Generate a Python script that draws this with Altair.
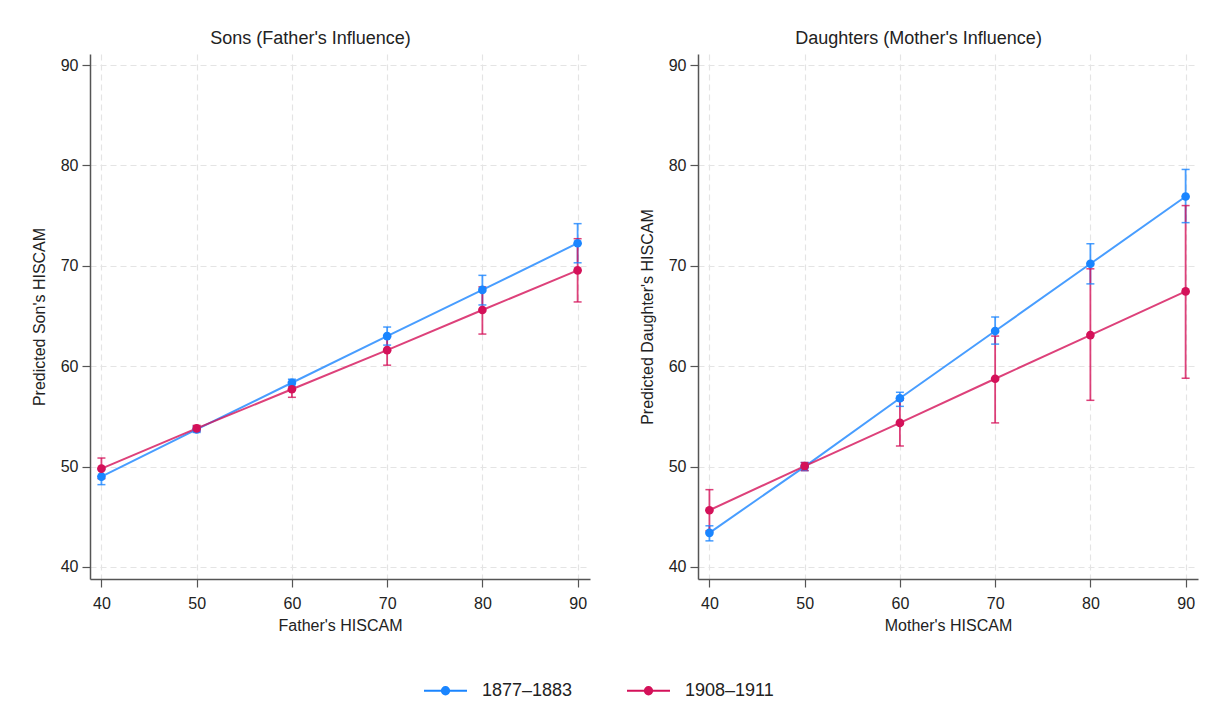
import altair as alt
import pandas as pd

# ---- data ----
x_vals = [40, 50, 60, 70, 80, 90]
cohorts = ["1877–1883", "1908–1911"]

sons_early = [49.0, 53.7, 58.35, 63.0, 67.6, 72.25]
sons_early_lo = [48.2, 53.4, 58.0, 62.1, 66.1, 70.3]
sons_early_hi = [49.7, 54.0, 58.7, 63.9, 69.05, 74.2]

sons_late = [49.8, 53.8, 57.7, 61.6, 65.6, 69.55]
sons_late_lo = [48.8, 53.5, 56.9, 60.1, 63.2, 66.4]
sons_late_hi = [50.85, 54.1, 58.4, 63.0, 67.9, 72.7]

dau_early = [43.4, 50.0, 56.8, 63.5, 70.2, 76.9]
dau_early_lo = [42.6, 49.6, 56.0, 62.2, 68.2, 74.3]
dau_early_hi = [44.1, 50.4, 57.4, 64.9, 72.2, 79.6]

dau_late = [45.65, 50.05, 54.35, 58.75, 63.1, 67.45]
dau_late_lo = [43.6, 49.6, 52.05, 54.35, 56.6, 58.8]
dau_late_hi = [47.7, 50.4, 56.6, 63.0, 69.7, 76.0]

colors = ["#1a85ff", "#d41159"]
FONT = "Liberation Sans"
TXT = "#222222"


def frame(vals, lo, hi, cohort):
    return pd.DataFrame({"x": x_vals, "y": vals, "lo": lo, "hi": hi, "cohort": cohort})


sons_df = pd.concat([frame(sons_early, sons_early_lo, sons_early_hi, cohorts[0]),
                     frame(sons_late, sons_late_lo, sons_late_hi, cohorts[1])])
dau_df = pd.concat([frame(dau_early, dau_early_lo, dau_early_hi, cohorts[0]),
                    frame(dau_late, dau_late_lo, dau_late_hi, cohorts[1])])

legend_path = ("M-1,0L1,0"
               "M-0.17,0A0.17,0.17,0,1,1,0.17,0A0.17,0.17,0,1,1,-0.17,0"
               "M-0.085,0A0.085,0.085,0,1,1,0.085,0A0.085,0.085,0,1,1,-0.085,0"
               "M-0.02,0A0.02,0.02,0,1,1,0.02,0A0.02,0.02,0,1,1,-0.02,0")

LEG = alt.Legend(title=None, orient="none", direction="horizontal",
                 legendX=333, legendY=614,
                 symbolType=legend_path, symbolSize=1849, symbolOpacity=1,
                 symbolStrokeWidth=2, labelFontSize=18,
                 labelFont=FONT, labelColor=TXT, labelOffset=14,
                 columnPadding=50)
COL = alt.Color("cohort:N", scale=alt.Scale(domain=cohorts, range=colors), legend=LEG)

YSC = alt.Scale(domain=[38.8, 91.1], nice=False, zero=False)
XSC = alt.Scale(domain=[38.8, 91.3], nice=False, zero=False)


def panel(df, title, xtitle, ytitle):
    xs = alt.X("x:Q", title=xtitle, scale=XSC, axis=alt.Axis(values=x_vals))
    ys = alt.Y("y:Q", title=ytitle, scale=YSC,
               axis=alt.Axis(values=[40, 50, 60, 70, 80, 90]))
    base = alt.Chart(df)
    rules = base.mark_rule(strokeWidth=1.8, opacity=0.8).encode(
        x=xs, y=alt.Y("lo:Q", scale=YSC), y2="hi:Q", color=COL)
    cap_lo = base.mark_tick(orient="horizontal", size=8, thickness=1.5, opacity=0.8).encode(
        x="x:Q", y="lo:Q", color=COL)
    cap_hi = base.mark_tick(orient="horizontal", size=8, thickness=1.5, opacity=0.8).encode(
        x="x:Q", y="hi:Q", color=COL)
    line = base.mark_line(strokeWidth=2, opacity=0.8).encode(x=xs, y=ys, color=COL)
    pts = base.mark_circle(size=75, opacity=1).encode(x="x:Q", y="y:Q", color=COL)
    return alt.layer(rules, cap_lo, cap_hi, line, pts).properties(
        width=500, height=525,
        title=alt.TitleParams(title, frame="bounds", anchor="middle", fontSize=18,
                              font=FONT, color=TXT, fontWeight="normal", offset=6))


left = panel(sons_df, "Sons (Father's Influence)", "Father's HISCAM", "Predicted Son's HISCAM")
right = panel(dau_df, "Daughters (Mother's Influence)", "Mother's HISCAM", "Predicted Daughter's HISCAM")

chart = alt.hconcat(left, right, spacing=49).properties(
    padding={"left": 23, "top": 22, "right": 5, "bottom": 5}
).configure_view(stroke=None).configure_axis(
    grid=True, gridColor="#e4e4e4", gridDash=[6, 4], gridWidth=1.2,
    domainColor="#555555", domainWidth=1.5,
    tickColor="#555555", tickSize=8, tickWidth=1.2,
    labelFont=FONT, labelFontSize=16, labelColor=TXT,
    titleFont=FONT, titleFontSize=16, titleColor=TXT, titleFontWeight="normal",
).configure_axisY(labelPadding=4, titlePadding=13, labelAngle=0
).configure_axisX(labelPadding=8, titlePadding=6)

chart.save("out.html", embed_options={"renderer": "svg", "actions": False})
